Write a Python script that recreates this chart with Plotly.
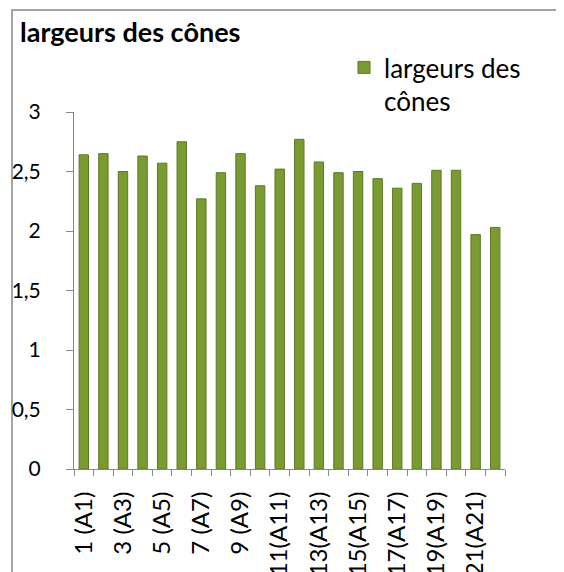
import plotly.graph_objects as go

categories = ["1 (A1)", "2 (A2)", "3 (A3)", "4 (A4)", "5 (A5)", "6 (A6)", "7 (A7)",
              "8 (A8)", "9 (A9)", "10(A10)", "11(A11)", "12(A12)", "13(A13)", "14(A14)",
              "15(A15)", "16(A16)", "17(A17)", "18(A18)", "19(A19)", "20(A20)",
              "21(A21)", "22(A22)"]
values = [2.64, 2.65, 2.50, 2.63, 2.57, 2.75, 2.27, 2.49, 2.65, 2.38, 2.52, 2.77,
          2.58, 2.49, 2.50, 2.44, 2.36, 2.40, 2.51, 2.51, 1.97, 2.03]
series_name = "largeurs des cônes"
y_ticks = [0, 0.5, 1, 1.5, 2, 2.5, 3]

idx = list(range(1, len(categories) + 1))
shown_idx = idx[::2]
shown_labels = categories[::2]

FONT = "Lato, 'Open Sans', sans-serif"

# the page body adds an 8px margin; work in figure coordinates
OFF = 8
W, H = 564 - OFF, 572 - OFF
L, R, T, B = 74 - OFF, 505 - OFF, 112 - OFF, 469 - OFF

def px_x(p):
    return (p - L) / (R - L)

def px_y(p):
    return (B - p) / (B - T)

fig = go.Figure()
fig.add_trace(go.Bar(
    x=idx, y=values, name="largeurs des<br>cônes", width=0.48,
    marker=dict(color="#799b32", line=dict(color="#5b7a22", width=1)),
    showlegend=True,
))

fig.update_layout(
    width=W, height=H,
    margin=dict(l=L, r=W - R, t=T, b=H - B, pad=0),
    paper_bgcolor="white", plot_bgcolor="white",
    separators=", ",
    font=dict(family=FONT, size=22, color="#000"),
    title=dict(text="<b>" + series_name + "</b>", x=12 / W, xref="container", xanchor="left",
               y=1 - 25 / H, yref="container", yanchor="middle",
               font=dict(family=FONT, size=27, color="#000")),
    showlegend=True,
    legend=dict(x=px_x(336), y=px_y(36), xanchor="left", yanchor="top",
                valign="top", bgcolor="rgba(0,0,0,0)",
                font=dict(family=FONT, size=26, color="#000"),
                itemwidth=30, tracegroupgap=0),
    xaxis=dict(range=[0.5, len(categories) + 0.5], showgrid=False, zeroline=False,
               automargin=False,
               showline=True, linecolor="#888", linewidth=1,
               tickmode="array", tickvals=shown_idx, ticktext=shown_labels,
               ticks="outside", ticklen=0, tickangle=-90, ticklabelstandoff=12,
               tickfont=dict(family=FONT, size=24, color="#000"),
               minor=dict(tickmode="linear", tick0=0.5, dtick=1, ticks="outside",
                          ticklen=6, tickcolor="#888", showgrid=False)),
    yaxis=dict(range=[0, 3], showgrid=False, zeroline=False,
               automargin=False,
               showline=True, linecolor="#888", linewidth=1,
               tickmode="array", tickvals=y_ticks,
               ticks="outside", ticklen=7, tickcolor="#888",
               ticklabelstandoff=21,
               tickfont=dict(family=FONT, size=21, color="#000")),
    shapes=[dict(type="rect", xref="paper", yref="paper",
                 x0=px_x(4), x1=px_x(620), y0=px_y(620), y1=px_y(2),
                 line=dict(color="#888", width=1.5), fillcolor="rgba(0,0,0,0)",
                 layer="below")],
)

fig.write_html("out.html")
